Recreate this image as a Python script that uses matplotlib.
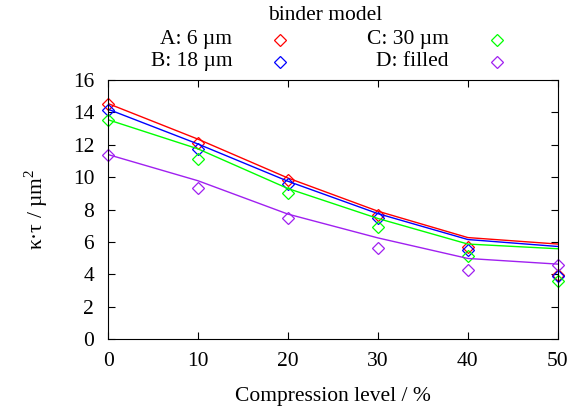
import matplotlib.pyplot as plt
from matplotlib.lines import Line2D

plt.rcParams['font.family'] = ['Liberation Serif', 'DejaVu Serif']
plt.rcParams['mathtext.fontset'] = 'custom'
plt.rcParams['mathtext.rm'] = 'Liberation Serif'

# compression level in %
compression = [0, 10, 20, 30, 40, 50]

# measured values (points)
pts_a = [14.55, 12.1, 9.85, 7.65, 5.7, 3.95]
pts_b = [14.15, 11.75, 9.6, 7.45, 5.5, 3.9]
pts_c = [13.55, 11.15, 9.05, 6.95, 5.15, 3.6]
pts_d = [11.4, 9.35, 7.45, 5.65, 4.25, 4.55]

# model values (lines)
fit_a = [14.55, 12.35, 9.95, 7.9, 6.27, 5.87]
fit_b = [14.2, 12.05, 9.75, 7.75, 6.15, 5.72]
fit_c = [13.55, 11.75, 9.3, 7.45, 5.87, 5.58]
fit_d = [11.4, 9.78, 7.72, 6.25, 4.98, 4.63]

labels = ['A: 6 µm', 'B: 18 µm', 'C: 30 µm', 'D: filled']
colors = ['#ff0000', '#0000ff', '#00ff00', '#a020f0']

fs = 15.5

fig = plt.figure(figsize=(5.81, 4.15), dpi=100)
ax = fig.add_axes([0.186, 0.183, 0.774, 0.624])

for pts, fit, c in zip([pts_a, pts_b, pts_c, pts_d], [fit_a, fit_b, fit_c, fit_d], colors):
    ax.plot(compression, fit, color=c, lw=1.0)
    ax.plot(compression, pts, linestyle='none', marker='D', markersize=6,
            markerfacecolor='none', markeredgecolor=c, markeredgewidth=0.9,
            clip_on=False)

ax.set_xlim(0, 50)
ax.set_ylim(0, 16)
ax.set_xticks(range(0, 51, 10))
ax.set_yticks(range(0, 17, 2))
ax.tick_params(direction='in', top=True, right=True, labelsize=fs, length=5)
ax.tick_params(axis='y', pad=10)
ax.tick_params(axis='x', pad=9)
ax.set_xlabel('Compression level / %', fontsize=fs, labelpad=12)
ax.set_ylabel(r'κ·τ / µm$^{2}$', fontsize=fs, labelpad=16)

# legend, gnuplot style: text right-aligned, sample to the right
fig.text(0.56, 0.962, 'binder model', ha='center', va='center', fontsize=fs)
text_x = [0.40, 0.40, 0.772, 0.772]
mark_x = [0.482, 0.482, 0.855, 0.855]
rows_y = [0.904, 0.851, 0.904, 0.851]
for lab, c, tx, mx, ry in zip(labels, colors, text_x, mark_x, rows_y):
    fig.text(tx, ry, lab, ha='right', va='center', fontsize=fs)
    fig.add_artist(Line2D([mx], [ry], transform=fig.transFigure, marker='D',
                          markersize=6, markerfacecolor='none',
                          markeredgecolor=c, markeredgewidth=0.9))

fig.savefig('out.png', dpi=100)
